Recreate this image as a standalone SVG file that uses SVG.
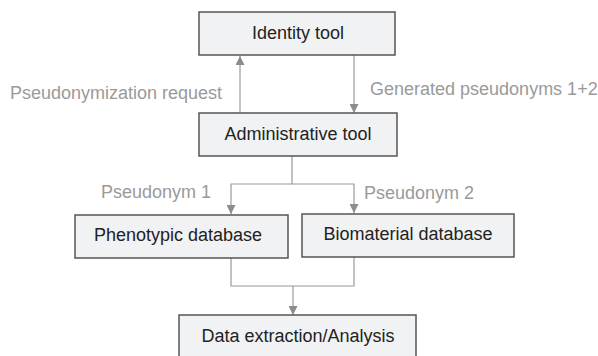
<svg xmlns="http://www.w3.org/2000/svg" width="598" height="356" viewBox="0 0 598 356">
  <defs>
    <marker id="arrow" viewBox="0 0 10 10" refX="10" refY="5" markerWidth="9" markerHeight="9" markerUnits="userSpaceOnUse" orient="auto">
      <path d="M0,0 L10,5 L0,10 Z" fill="#8c8c8c"/>
    </marker>
    <style>
      .box { fill: #f1f2f4; stroke: #555; stroke-width: 1.5; }
      .label { font-family: "Liberation Sans", Arial, sans-serif; font-size: 18px; fill: #222; text-anchor: middle; }
      .edge-label { font-family: "Liberation Sans", Arial, sans-serif; font-size: 18px; fill: #9a9a9a; }
      .conn { fill: none; stroke: #9a9a9a; stroke-width: 1.2; }
    </style>
  </defs>
  <rect width="598" height="356" fill="#fff"/>

  <g id="connectors">
    <!-- request up to identity tool -->
    <line class="conn" x1="240" y1="113" x2="240" y2="56" marker-end="url(#arrow)"/>
    <!-- pseudonyms back down -->
    <line class="conn" x1="354" y1="55" x2="354" y2="113" marker-end="url(#arrow)"/>
    <!-- split to the two databases -->
    <path class="conn" d="M292,156 V184 H231 V214" marker-end="url(#arrow)"/>
    <path class="conn" d="M292,184 H354 V213" marker-end="url(#arrow)"/>
    <!-- merge into analysis -->
    <path class="conn" d="M231,258 V286 H354 V257"/>
    <line class="conn" x1="293" y1="286" x2="293" y2="315" marker-end="url(#arrow)"/>
  </g>

  <g id="edge-labels">
    <text class="edge-label" x="10" y="99">Pseudonymization request</text>
    <text class="edge-label" x="370" y="95">Generated pseudonyms 1+2</text>
    <text class="edge-label" x="101" y="198">Pseudonym 1</text>
    <text class="edge-label" x="364" y="199">Pseudonym 2</text>
  </g>

  <g id="identity-tool">
    <rect class="box" x="199" y="12" width="196" height="43"/>
    <text class="label" x="298" y="39">Identity tool</text>
  </g>

  <g id="administrative-tool">
    <rect class="box" x="199" y="113" width="198" height="43"/>
    <text class="label" x="298" y="140">Administrative tool</text>
  </g>

  <g id="phenotypic-database">
    <rect class="box" x="75" y="215" width="213" height="43"/>
    <text class="label" x="178" y="241">Phenotypic database</text>
  </g>

  <g id="biomaterial-database">
    <rect class="box" x="302" y="214" width="212" height="43"/>
    <text class="label" x="408" y="240">Biomaterial database</text>
  </g>

  <g id="data-extraction">
    <rect class="box" x="179" y="315" width="237" height="46"/>
    <text class="label" x="298" y="342">Data extraction/Analysis</text>
  </g>
</svg>
